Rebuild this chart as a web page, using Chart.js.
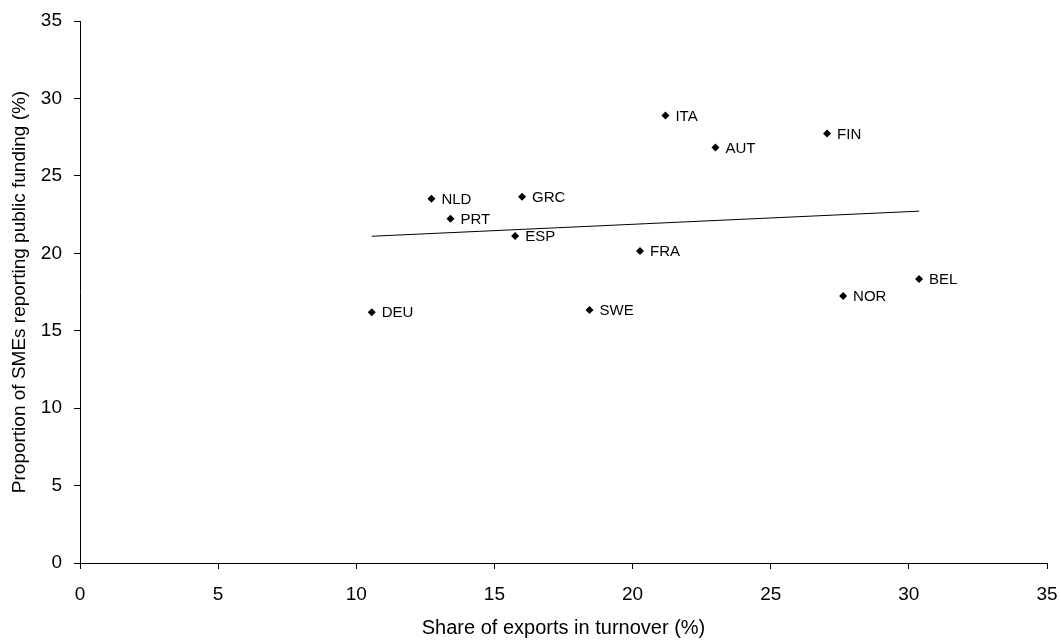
<!DOCTYPE html>
<html>
<head>
<meta charset="utf-8">
<title>SMEs public funding vs export share</title>
<script src="https://cdn.jsdelivr.net/npm/chart.js@4"></script>
<style>
  html, body { margin: 0; padding: 0; background: #fff; }
  #wrap { width: 1061px; height: 640px; position: relative; }
</style>
</head>
<body>
<div id="wrap"><canvas id="chart"></canvas></div>
<script>
// datos
const countries = ["DEU", "NLD", "PRT", "GRC", "ESP", "SWE", "FRA", "ITA", "AUT", "FIN", "NOR", "BEL"];
const exportShare = [10.56, 12.72, 13.41, 16.0, 15.75, 18.44, 20.27, 21.19, 23.0, 27.04, 27.62, 30.37];
const publicFunding = [16.19, 23.52, 22.23, 23.65, 21.11, 16.34, 20.14, 28.9, 26.83, 27.74, 17.24, 18.34];

// línea de tendencia (extremos)
const trendX = [10.56, 30.37];
const trendY = [21.1, 22.72];

const xTicks = [0, 5, 10, 15, 20, 25, 30, 35];
const yTicks = [0, 5, 10, 15, 20, 25, 30, 35];

Chart.defaults.font.family = "'Liberation Sans', Arial, sans-serif";
Chart.defaults.color = "#000";

// etiquetas de países junto a cada punto
const pointLabels = {
  id: "pointLabels",
  afterDatasetsDraw(chart) {
    const { ctx } = chart;
    const meta = chart.getDatasetMeta(0);
    ctx.save();
    ctx.font = "15px 'Liberation Sans', Arial, sans-serif";
    ctx.fillStyle = "#000";
    ctx.textBaseline = "middle";
    ctx.textAlign = "left";
    meta.data.forEach((pt, i) => {
      ctx.fillText(countries[i], pt.x + 10, pt.y + 1);
    });
    ctx.restore();
  },
};

const scatterData = exportShare.map((x, i) => ({ x, y: publicFunding[i] }));
const trendData = trendX.map((x, i) => ({ x, y: trendY[i] }));

new Chart(document.getElementById("chart"), {
  type: "scatter",
  data: {
    datasets: [
      {
        label: "Countries",
        data: scatterData,
        pointStyle: "rectRot",
        pointRadius: 4,
        pointHoverRadius: 4,
        backgroundColor: "#000",
        borderColor: "#000",
        borderWidth: 0,
      },
      {
        type: "line",
        label: "Trend",
        data: trendData,
        borderColor: "#000",
        borderWidth: 1,
        pointRadius: 0,
        fill: false,
        tension: 0,
      },
    ],
  },
  options: {
    responsive: true,
    maintainAspectRatio: false,
    animation: false,
    layout: { padding: { top: 21, right: 14, left: 0, bottom: 0 } },
    plugins: {
      legend: { display: false },
      tooltip: { enabled: false },
    },
    scales: {
      x: {
        type: "linear",
        min: 0,
        max: 35,
        afterBuildTicks: (s) => { s.ticks = xTicks.map((v) => ({ value: v })); },
        afterFit: (s) => {
          s.height = 77;
          s.paddingLeft = 0;
          s.paddingRight = 0;
        },
        grid: { drawOnChartArea: false, drawTicks: true, tickLength: 6, color: "#000" },
        border: { display: true, color: "#000", width: 1 },
        ticks: { font: { size: 19 }, padding: 14, maxRotation: 0 },
        title: {
          display: true,
          text: "Share of exports in turnover (%)",
          font: { size: 20 },
          padding: { top: 2, bottom: 0 },
        },
      },
      y: {
        type: "linear",
        min: 0,
        max: 35,
        afterBuildTicks: (s) => { s.ticks = yTicks.map((v) => ({ value: v })); },
        afterFit: (s) => {
          s.width = 80;
          s.paddingTop = 0;
          s.paddingBottom = 0;
        },
        grid: { drawOnChartArea: false, drawTicks: true, tickLength: 6, color: "#000" },
        border: { display: true, color: "#000", width: 1 },
        ticks: { font: { size: 19 }, padding: 12 },
        title: {
          display: true,
          text: "Proportion of SMEs reporting public funding (%)",
          font: { size: 19 },
          padding: { top: 8, bottom: 0 },
        },
      },
    },
  },
  plugins: [pointLabels],
});
</script>
</body>
</html>
